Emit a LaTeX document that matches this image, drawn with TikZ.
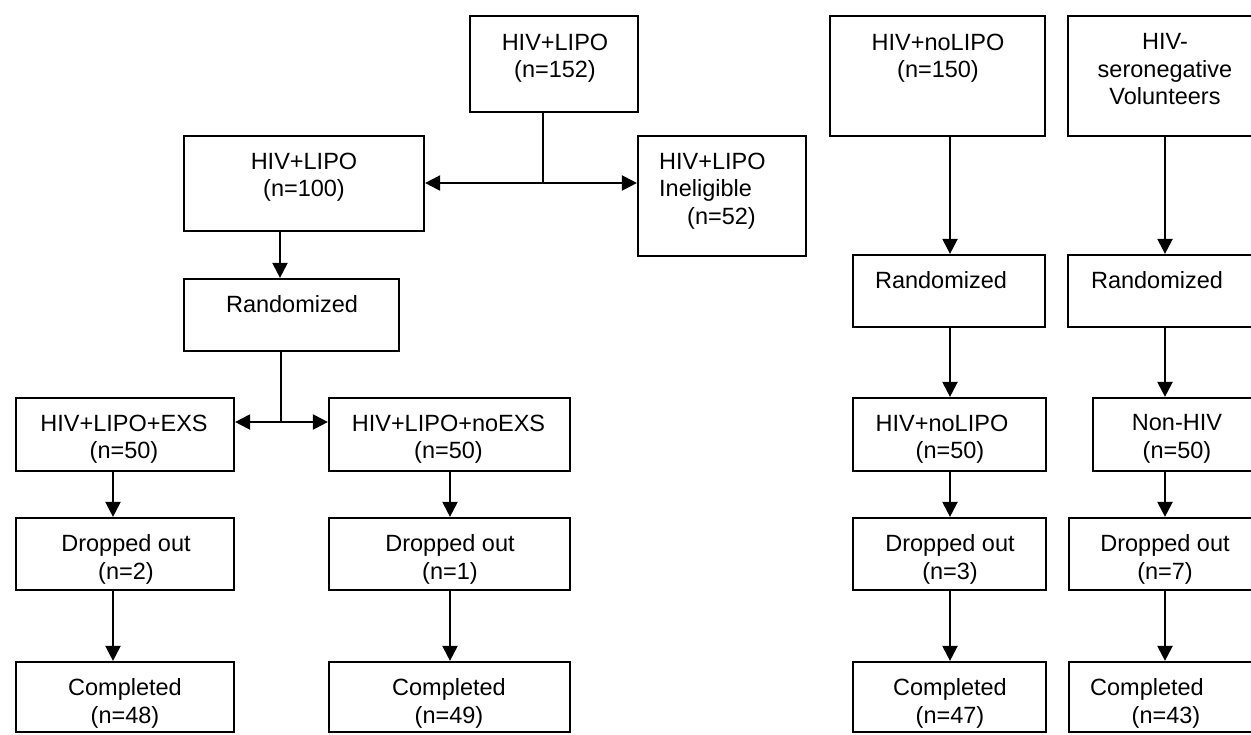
\documentclass[tikz,border=0pt]{standalone}
\usepackage{fontspec}
\setmainfont{Liberation Sans}
\usetikzlibrary{arrows.meta}

\tikzset{
  box/.style={draw, line width=2.2pt, inner sep=0pt},
  txt/.style={inner sep=0pt, align=center, anchor=north, font=\fontsize{23.5}{27.5}\selectfont},
  link/.style={line width=2.2pt},
  arr/.style={link, -{Triangle[length=15pt,width=15pt]}}
}

\begin{document}
\begin{tikzpicture}[x=1pt,y=-1pt]

        \useasboundingbox (0,0) rectangle (1251,734);
        \clip (0,0) rectangle (1251,734);

        % boxes
        \node[box, minimum width=168pt, minimum height=96pt] (lipo152) at (554,64) {};
        \node[box, minimum width=240pt, minimum height=95pt] (lipo100) at (304,183.5) {};
        \node[box, minimum width=168pt, minimum height=120pt] (inelig) at (722,196) {};
        \node[box, minimum width=215pt, minimum height=72pt] (rand1) at (291.5,315) {};
        \node[box, minimum width=215pt, minimum height=120pt] (nolipo150) at (937.5,76) {};
        \node[box, minimum width=194pt, minimum height=120pt] (seroneg) at (1165,76) {};
        \node[box, minimum width=192pt, minimum height=72pt] (rand2) at (949,291) {};
        \node[box, minimum width=194pt, minimum height=72pt] (rand3) at (1165,291) {};

        \node[box, minimum width=218pt, minimum height=73pt] (exs) at (125,434.5) {};
        \node[box, minimum width=241pt, minimum height=73pt] (noexs) at (449.5,434.5) {};
        \node[box, minimum width=193pt, minimum height=73pt] (nolipo50) at (949.5,434.5) {};
        \node[box, minimum width=169pt, minimum height=73pt] (nonhiv) at (1177.5,434.5) {};

        \node[box, minimum width=218pt, minimum height=72pt] (drop1) at (125,554) {};
        \node[box, minimum width=241pt, minimum height=72pt] (drop2) at (449.5,554) {};
        \node[box, minimum width=193pt, minimum height=72pt] (drop3) at (949.5,554) {};
        \node[box, minimum width=193pt, minimum height=72pt] (drop4) at (1165.5,554) {};

        \node[box, minimum width=218pt, minimum height=70pt] (comp1) at (125,697) {};
        \node[box, minimum width=241pt, minimum height=70pt] (comp2) at (449.5,697) {};
        \node[box, minimum width=193pt, minimum height=70pt] (comp3) at (949.5,697) {};
        \node[box, minimum width=193pt, minimum height=70pt] (comp4) at (1165.5,697) {};

        % texts
        \node[txt] (lipo152t) at (555,33.5) {HIV+LIPO\\(n=152)};
        \node[txt] (lipo100t) at (304,152.5) {HIV+LIPO\\(n=100)};
        \node[txt, anchor=north west, align=left] (inelig t) at (659,152.5) {HIV+LIPO\\Ineligible\\\hspace*{28pt}(n=52)};
        \node[txt] (rand1t) at (292,295.5) {Randomized};
        \node[txt] (nolipo150t) at (938,33.5) {HIV+noLIPO\\(n=150)};
        \node[txt] (seronegt) at (1165,33.5) {HIV-\\seronegative\\Volunteers};
        \node[txt] (rand2t) at (941,271) {Randomized};
        \node[txt] (rand3t) at (1157,271) {Randomized};

        \node[txt] (exst) at (124,414.5) {HIV+LIPO+EXS\\(n=50)};
        \node[txt] (noexst) at (448.5,414.5) {HIV+LIPO+noEXS\\(n=50)};
        \node[txt] (nolipo50t) at (942,414.5) {HIV+noLIPO\\\hspace*{16pt}(n=50)};
        \node[txt] (nonhivt) at (1177,414.5) {Non-HIV\\(n=50)};

        \node[txt] (drop1t) at (126,534.5) {Dropped out\\(n=2)};
        \node[txt] (drop2t) at (450,534.5) {Dropped out\\(n=1)};
        \node[txt] (drop3t) at (950,534.5) {Dropped out\\(n=3)};
        \node[txt] (drop4t) at (1165,534.5) {Dropped out\\(n=7)};

        \node[txt] (comp1t) at (125,678.5) {Completed\\(n=48)};
        \node[txt] (comp2t) at (449,678.5) {Completed\\(n=49)};
        \node[txt] (comp3t) at (950,678.5) {Completed\\(n=47)};
        \node[txt] (comp4t) at (1147,678.5) {Completed\\\hspace*{38pt}(n=43)};

        % split points and columns
        \coordinate (split1) at (543,183);
        \coordinate (split2) at (281,422);
        \coordinate (colR) at (280,0);
        \coordinate (colA) at (113,0);
        \coordinate (colB) at (450,0);
        \coordinate (colC) at (950,0);
        \coordinate (colD) at (1165,0);

        \draw[link] (lipo152.south -| split1) -- (split1);
        \draw[arr] (split1) -- (split1 -| lipo100.east);
        \draw[arr] (split1) -- (split1 -| inelig.west);

        \draw[arr] (lipo100.south -| colR) -- (rand1.north -| colR);

        \draw[link] (rand1.south -| split2) -- (split2);
        \draw[arr] (split2) -- (split2 -| exs.east);
        \draw[arr] (split2) -- (split2 -| noexs.west);

        \foreach \a/\b/\c in {exs/drop1/colA, drop1/comp1/colA,
                              noexs/drop2/colB, drop2/comp2/colB,
                              nolipo150/rand2/colC, rand2/nolipo50/colC, nolipo50/drop3/colC, drop3/comp3/colC,
                              seroneg/rand3/colD, rand3/nonhiv/colD, nonhiv/drop4/colD, drop4/comp4/colD}
          \draw[arr] (\a.south -| \c) -- (\b.north -| \c);

\end{tikzpicture}
\end{document}
